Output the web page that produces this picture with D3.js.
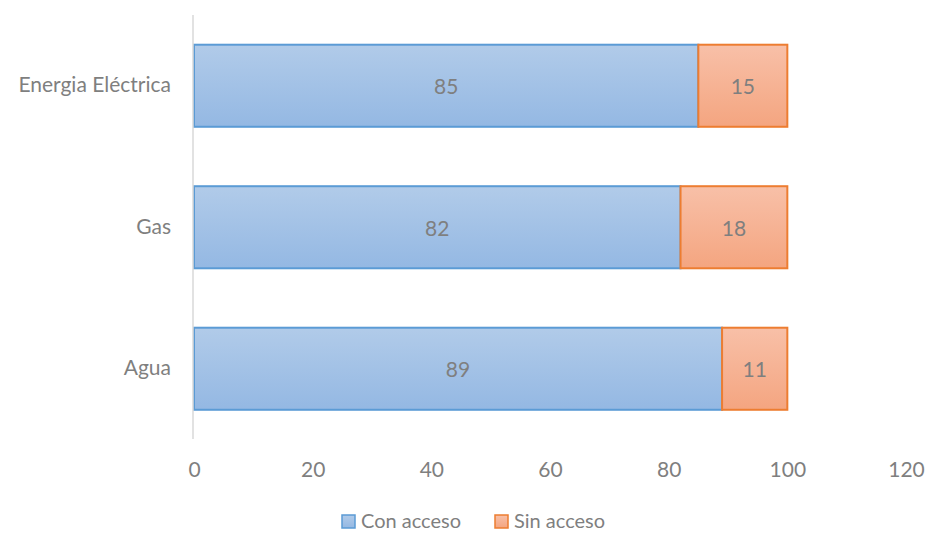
<!DOCTYPE html>
<html><head><meta charset="utf-8">
<script src="https://cdn.jsdelivr.net/npm/d3@7"></script>
<style>body{margin:0;background:#fff}svg{display:block}text{font-family:Lato,"Open Sans",sans-serif}</style>
</head><body>
<svg id="c" width="927" height="533"></svg>
<script>
const categories = ["Energia Eléctrica", "Gas", "Agua"];
const conAcceso = [85, 82, 89];
const sinAcceso = [15, 18, 11];
const seriesNames = ["Con acceso", "Sin acceso"];
const xTicks = [0, 20, 40, 60, 80, 100, 120];

const FS = 21;
const svg = d3.select("#c");
const x = d3.scaleLinear().domain([0, 120]).range([194, 906]);
const y = d3.scaleBand().domain(categories).range([15, 439.5]).paddingInner(0.42).paddingOuter(0.21);

const defs = svg.append("defs");
const grads = [["gBlue", "#b1cbe9", "#94b8e3"], ["gOrange", "#f8c0a8", "#f4a580"]];
grads.forEach(([id, c1, c2]) => {
  const g = defs.append("linearGradient").attr("id", id).attr("x1", 0).attr("y1", 0).attr("x2", 0).attr("y2", 1);
  g.append("stop").attr("offset", "0%").attr("stop-color", c1);
  g.append("stop").attr("offset", "100%").attr("stop-color", c2);
});
const fills = ["url(#gBlue)", "url(#gOrange)"];
const strokes = ["#5b9bd5", "#ed7d31"];

const data = categories.map((c, i) => ({cat: c, vals: [conAcceso[i], sinAcceso[i]]}));

data.forEach(d => {
  let acc = 0;
  d.vals.forEach((v, s) => {
    const x0 = x(acc), x1 = x(acc + v);
    svg.append("rect").attr("x", x0).attr("y", y(d.cat)).attr("width", x1 - x0).attr("height", y.bandwidth())
      .attr("fill", fills[s]).attr("stroke", strokes[s]).attr("stroke-width", 2);
    svg.append("text").attr("x", (x0 + x1) / 2).attr("y", y(d.cat) + y.bandwidth() / 2)
      .attr("text-anchor", "middle").attr("dominant-baseline", "central")
      .attr("font-size", FS).attr("fill", "#7f7f7f").text(v);
    acc += v;
  });
});

// vertical axis line
svg.append("line").attr("x1", 193).attr("x2", 193).attr("y1", 15).attr("y2", 439)
  .attr("stroke", "#d9d9d9").attr("stroke-width", 1.5);

// category labels
const yAxis = svg.append("g").attr("transform", "translate(193,0)")
  .call(d3.axisLeft(y).tickSize(0).tickPadding(22));
yAxis.select(".domain").remove();
yAxis.selectAll("text").attr("font-size", FS).attr("fill", "#7f7f7f").attr("font-family", "Lato,'Open Sans',sans-serif");

// x tick labels
const xAxis = svg.append("g").attr("transform", "translate(0,462)")
  .call(d3.axisBottom(x).tickValues(xTicks).tickSize(0).tickPadding(0));
xAxis.select(".domain").remove();
xAxis.selectAll("text").attr("font-size", FS).attr("fill", "#7f7f7f").attr("font-family", "Lato,'Open Sans',sans-serif");

// legend
const leg = [{name: seriesNames[0], x: 342}, {name: seriesNames[1], x: 495}];
leg.forEach((l, i) => {
  svg.append("rect").attr("x", l.x).attr("y", 515).attr("width", 13).attr("height", 13)
    .attr("fill", fills[i]).attr("stroke", strokes[i]).attr("stroke-width", 1.5);
  svg.append("text").attr("x", l.x + 19).attr("y", 520).attr("dominant-baseline", "central")
    .attr("font-size", 20).attr("fill", "#7f7f7f").text(l.name);
});
</script>
</body></html>
